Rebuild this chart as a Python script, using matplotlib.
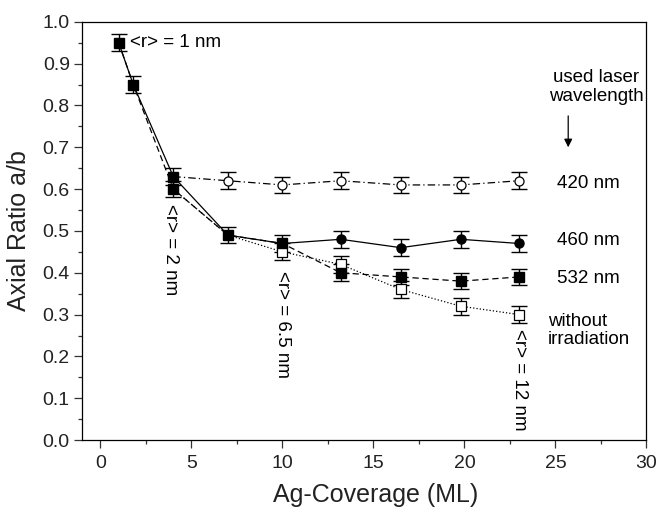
import matplotlib
matplotlib.use("Agg")
import matplotlib.pyplot as plt
from matplotlib.ticker import MultipleLocator, FormatStrFormatter

plt.rcParams['font.family'] = ['Liberation Sans', 'DejaVu Sans']

x = [1, 1.8, 4, 7, 10, 13.2, 16.5, 19.8, 23]
y_460 = [0.95, 0.85, 0.63, 0.49, 0.47, 0.48, 0.46, 0.48, 0.47]
y_532 = [0.95, 0.85, 0.60, 0.49, 0.47, 0.40, 0.39, 0.38, 0.39]
y_none = [0.95, 0.85, 0.60, 0.49, 0.45, 0.42, 0.36, 0.32, 0.30]
x_420 = [4, 7, 10, 13.2, 16.5, 19.8, 23]
y_420 = [0.63, 0.62, 0.61, 0.62, 0.61, 0.61, 0.62]
err = 0.02

fig = plt.figure(figsize=(6.61, 5.07), dpi=100)
ax = fig.add_axes([0.1245, 0.132, 0.8535, 0.825])

lw = 0.9
ax.plot(x, y_460, '-', color='k', lw=lw, zorder=2)
ax.plot(x, y_532, '--', color='k', lw=lw, dashes=(5, 3), zorder=2)
ax.plot(x[2:], y_none[2:], ':', color='k', lw=lw, zorder=2)
ax.plot(x_420, y_420, '-.', color='k', lw=lw, dashes=(6, 2.5, 1, 2.5), zorder=2)

ekw = dict(fmt='none', ecolor='k', elinewidth=1.0, capsize=6, capthick=1.0, zorder=3)
ax.errorbar(x[:5], y_460[:5], yerr=err, **ekw)
ax.errorbar(x[5:], y_460[5:], yerr=err, **ekw)
ax.errorbar(x[2:3] + x[5:], [y_532[2]] + y_532[5:], yerr=err, **ekw)
ax.errorbar(x[4:], y_none[4:], yerr=err, **ekw)
ax.errorbar(x_420[1:], y_420[1:], yerr=err, **ekw)

ms = 6.5
ax.plot(x[4:], y_none[4:], 's', ms=ms, mfc='white', mec='k', mew=0.9, ls='none', zorder=4)
ax.plot(x[:5], y_460[:5], 's', ms=ms, mfc='k', mec='k', ls='none', zorder=5)
ax.plot(x[5:], y_460[5:], 'o', ms=ms, mfc='k', mec='k', ls='none', zorder=5)
ax.plot([x[2]] + x[5:], [y_532[2]] + y_532[5:], 's', ms=ms, mfc='k', mec='k', ls='none', zorder=5)
ax.plot(x_420[1:], y_420[1:], 'o', ms=ms, mfc='white', mec='k', mew=0.9, ls='none', zorder=4)

ax.set_xlim(-1, 30)
ax.set_ylim(0, 1.0)
ax.xaxis.set_major_locator(MultipleLocator(5))
ax.xaxis.set_minor_locator(MultipleLocator(2.5))
ax.yaxis.set_major_locator(MultipleLocator(0.1))
ax.yaxis.set_minor_locator(MultipleLocator(0.05))
ax.yaxis.set_major_formatter(FormatStrFormatter('%.1f'))
ax.tick_params(which='both', direction='out', top=False, right=False, labelsize=14,
               color='#333333', labelcolor='#222222')
ax.tick_params(which='major', length=6, width=0.9, pad=3)
ax.tick_params(axis='x', which='major', pad=5)
ax.tick_params(which='minor', length=3, width=0.9)
for s in ax.spines.values():
    s.set_linewidth(0.9)

ax.set_xlabel('Ag-Coverage (ML)', fontsize=18, labelpad=8, color='#222222')
ax.xaxis.label.set_position((0.52, 0))
ax.set_ylabel('Axial Ratio a/b', fontsize=18, labelpad=8, color='#222222')

fs = 13.5
ax.text(1.6, 0.95, '<r> = 1 nm', fontsize=fs, va='center', ha='left')
ax.text(3.85, 0.565, '<r> = 2 nm', fontsize=fs, va='top', ha='center', rotation=270)
ax.text(10, 0.405, '<r> = 6.5 nm', fontsize=fs, va='top', ha='center', rotation=270)
ax.text(23.05, 0.265, '<r> = 12 nm', fontsize=fs, va='top', ha='center', rotation=270)

ax.text(25.1, 0.614, '420 nm', fontsize=fs, va='center', ha='left')
ax.text(25.1, 0.478, '460 nm', fontsize=fs, va='center', ha='left')
ax.text(25.1, 0.387, '532 nm', fontsize=fs, va='center', ha='left')
ax.text(24.6, 0.262, 'without\nirradiation', fontsize=fs, va='center', ha='left', linespacing=1.15)
ax.text(27.25, 0.843, 'used laser\nwavelength', fontsize=fs, va='center', ha='center', linespacing=1.15)
ax.annotate('', xy=(25.7, 0.70), xytext=(25.7, 0.775),
            arrowprops=dict(arrowstyle='-|>', color='k', lw=0.9, mutation_scale=12,
                            shrinkA=0, shrinkB=0))

fig.savefig('out.png', dpi=100)
